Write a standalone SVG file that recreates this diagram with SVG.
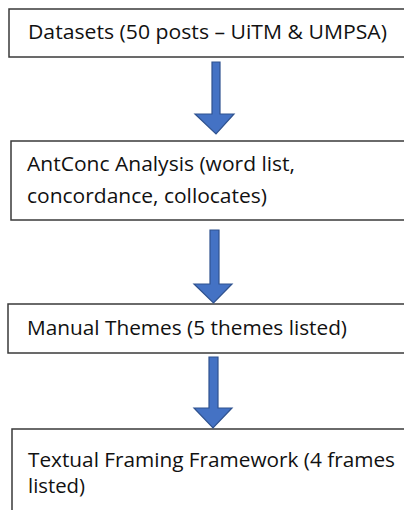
<svg xmlns="http://www.w3.org/2000/svg" width="404" height="510" viewBox="0 0 404 510">
<style>
.box{fill:#fff;stroke:#3a3a3a;stroke-width:1.5}
.t{font-family:"Open Sans","Liberation Sans",sans-serif;font-size:20px;fill:#111}
.arr{fill:#4472C4;stroke:#2F528F;stroke-width:1.2;stroke-linejoin:miter}
</style>
<rect width="404" height="510" fill="#fff"/>
<g id="n1"><rect class="box" x="9" y="9" width="420" height="48"/>
<text class="t" x="28" y="39" textLength="359" lengthAdjust="spacingAndGlyphs">Datasets (50 posts – UiTM &amp; UMPSA)</text></g>
<g id="n2"><rect class="box" x="11" y="141" width="420" height="79"/>
<text class="t" x="27" y="171" textLength="268" lengthAdjust="spacingAndGlyphs">AntConc Analysis (word list,</text>
<text class="t" x="27" y="203" textLength="240" lengthAdjust="spacingAndGlyphs">concordance, collocates)</text></g>
<g id="n3"><rect class="box" x="8" y="304" width="420" height="49"/>
<text class="t" x="27" y="335" textLength="320" lengthAdjust="spacingAndGlyphs">Manual Themes (5 themes listed)</text></g>
<g id="n4"><rect class="box" x="12" y="429" width="420" height="100"/>
<text class="t" x="28" y="467" textLength="367" lengthAdjust="spacingAndGlyphs">Textual Framing Framework (4 frames</text>
<text class="t" x="28" y="493" textLength="57" lengthAdjust="spacingAndGlyphs">listed)</text></g>
<g id="connectors">
<path class="arr" d="M212,62 H220 V114 H234 L216,134 L195,114 H212 Z"/>
<path class="arr" d="M210,230 H219 V284 H232 L213.5,303 L194,284 H210 Z"/>
<path class="arr" d="M209,357 H218 V408 H232 L213,428 L194,408 H209 Z"/>
</g>
</svg>
